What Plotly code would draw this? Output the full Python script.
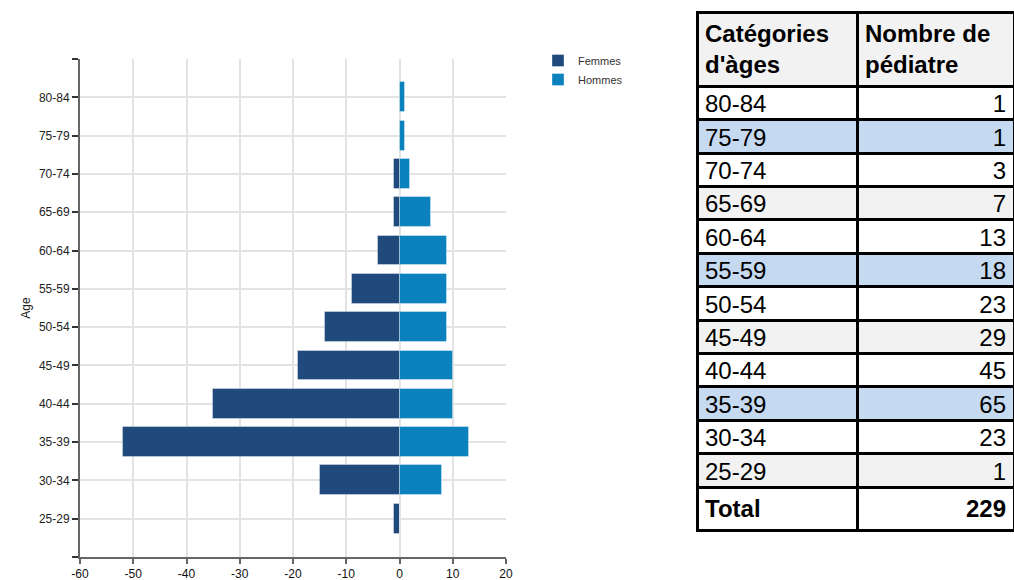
import plotly.graph_objects as go

# Age groups, oldest first (same order as the table)
ages = ["80-84", "75-79", "70-74", "65-69", "60-64", "55-59",
        "50-54", "45-49", "40-44", "35-39", "30-34", "25-29"]
femmes = [0, 0, 1, 1, 4, 9, 14, 19, 35, 52, 15, 1]
hommes = [1, 1, 2, 6, 9, 9, 9, 10, 10, 13, 8, 0]
totals = [f + h for f, h in zip(femmes, hommes)]

x_ticks = [-60, -50, -40, -30, -20, -10, 0, 10, 20]

FONT = "Liberation Sans, Arial, sans-serif"
W, H = 1014, 580

n = len(ages)
ypos = [n - 1 - i for i in range(n)]          # oldest group at the top
tick_pos = list(range(-1, n + 1))
tick_txt = [""] + [ages[n - 1 - k] for k in range(n)] + [""]

fig = go.Figure()

fig.add_trace(go.Bar(
    name="Femmes", y=ypos, x=[-v for v in femmes], orientation="h",
    width=0.78, marker=dict(color="#214a7c",
                            line=dict(color="rgba(255,255,255,0.35)", width=1)),
))
fig.add_trace(go.Bar(
    name="Hommes", y=ypos, x=hommes, orientation="h",
    width=0.78, marker=dict(color="#0b81bd",
                            line=dict(color="rgba(255,255,255,0.35)", width=1)),
))

# Summary table
row_fill = []
for i in range(n):
    row_fill.append(["#ffffff", "#c5d9f1", "#ffffff", "#f2f2f2"][i % 4])
row_fill.append("#ffffff")

fig.add_trace(go.Table(
    domain=dict(x=[697 / W, 1.0], y=[0.0, 1 - 12 / H]),
    columnwidth=[160, 157],
    header=dict(
        values=["<b>Catégories<br>d'àges</b>", "<b>Nombre de<br>pédiatre</b>"],
        fill_color="#f2f2f2", align=["left", "left"], height=70,
        line=dict(color="black", width=3),
        font=dict(family=FONT, size=24, color="black"),
    ),
    cells=dict(
        values=[ages + ["<b>Total</b>"],
                [str(t) for t in totals] + ["<b>%d</b>" % sum(totals)]],
        fill_color=[row_fill, row_fill], align=["left", "right"], height=33.4,
        line=dict(color="black", width=3),
        font=dict(family=FONT, size=24, color="black"),
    ),
))

fig.update_layout(
    width=W, height=H,
    margin=dict(l=0, r=0, t=0, b=0),
    paper_bgcolor="white", plot_bgcolor="white",
    barmode="relative", bargap=0,
    font=dict(family=FONT, color="#222"),
    showlegend=True,
    legend=dict(x=538 / W, y=1 - 46 / H, xanchor="left", yanchor="top",
                bgcolor="rgba(0,0,0,0)", font=dict(size=11, color="#333"),
                traceorder="normal", tracegroupgap=0),
    xaxis=dict(
        domain=[80 / W, 506 / W], range=[-60, 20],
        tickvals=x_ticks, ticktext=[str(v) for v in x_ticks],
        showgrid=True, gridcolor="#e3e3e3", gridwidth=1.5, zeroline=False,
        showline=True, linecolor="#666", linewidth=2,
        ticks="outside", ticklen=5, tickcolor="#666", tickwidth=1.5,
        tickfont=dict(size=12, color="#111"), automargin=False,
    ),
    yaxis=dict(
        domain=[23 / H, 521 / H], range=[-1, n],
        tickvals=tick_pos, ticktext=tick_txt,
        showgrid=True, gridcolor="#e3e3e3", gridwidth=1.5, zeroline=False,
        showline=True, linecolor="#666", linewidth=2,
        ticks="outside", ticklen=6, tickcolor="#333", tickwidth=1.5,
        tickfont=dict(size=12, color="#222"), automargin=False,
        title=dict(text="Age", font=dict(size=12, color="#222"), standoff=6),
    ),
)

fig.write_html("out.html")
